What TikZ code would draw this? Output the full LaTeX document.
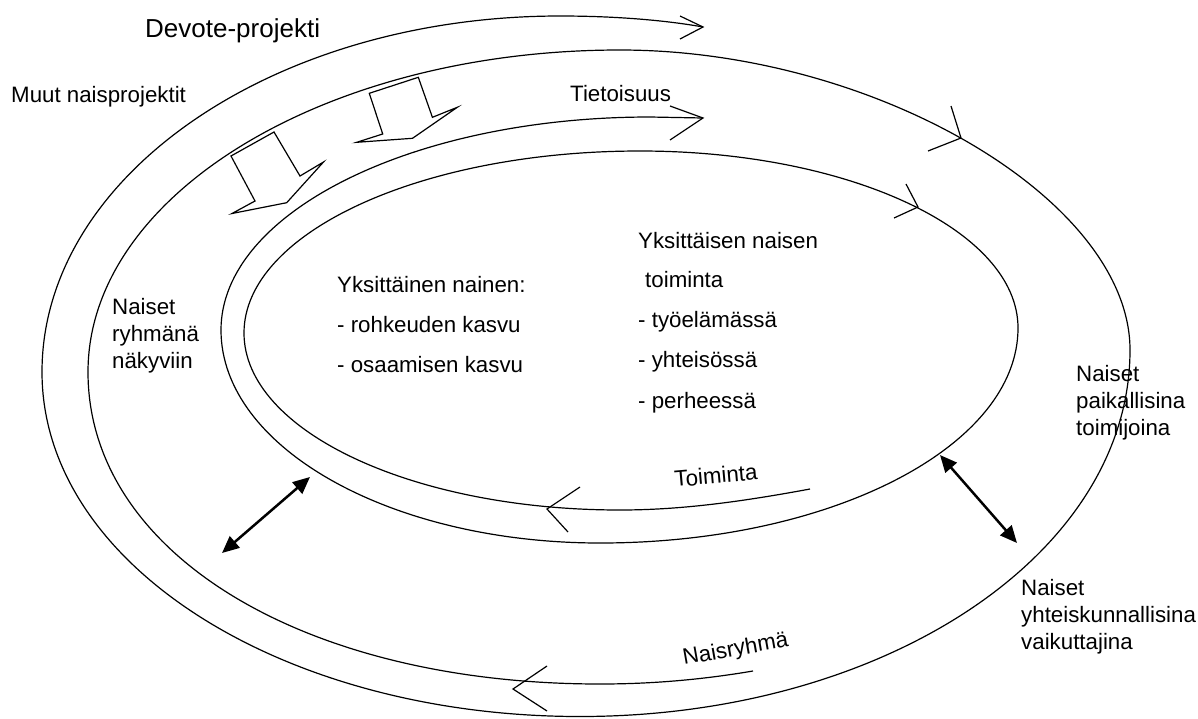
\documentclass[tikz,border=0pt]{standalone}
\usepackage{fontspec}
\setmainfont{Liberation Sans}
\usetikzlibrary{arrows.meta}
\newcommand{\lblfont}{\fontsize{22.3}{27}\selectfont}
\newcommand{\ttlfont}{\fontsize{26}{30}\selectfont}
\tikzset{
  curve/.style={line width=1.2pt, line cap=butt, line join=miter},
  vhead/.style={line width=1.2pt},
  blockarrow/.style={draw, line width=1.2pt, fill=white, line join=miter},
  dbl/.style={line width=2.5pt, {Triangle[length=17pt,width=15pt]}-{Triangle[length=17pt,width=15pt]}, shorten <=0pt, shorten >=0pt},
  lbl/.style={anchor=base west, inner sep=0pt, font=\lblfont},
}
\begin{document}
\begin{tikzpicture}[x=1pt, y=-1pt]
\fill[white] (0,0) rectangle (1198,718);
\useasboundingbox (0,0) rectangle (1198,718);

% ---------- outer spiral ----------
\draw[curve] (753,671) .. controls (700,680) and (650,684) .. (600,684)
  .. controls (303,684) and (88,553) .. (88,372)
  .. controls (88,194.2) and (326.2,50) .. (620,50)
  .. controls (875,50) and (1130,200) .. (1130,350)
  .. controls (1130,554.9) and (883.8,716.5) .. (580,716.5)
  .. controls (282.9,716.5) and (42,564.8) .. (42,372)
  .. controls (42,175.4) and (273.9,16) .. (560,16)
  .. controls (620,16) and (670,21) .. (703,27);
\draw[vhead] (680,16) -- (703,27) -- (680,39);
\draw[vhead] (951,106) -- (961,138) -- (928,151);
\draw[vhead] (547,666) -- (513,689) -- (547,711);

% ---------- inner spiral ----------
\draw[curve] (810,489) .. controls (740,502) and (680,510) .. (620,510)
  .. controls (412.3,510) and (244,430.8) .. (244,333)
  .. controls (244,232.5) and (421.3,151) .. (640,151)
  .. controls (848.8,151) and (1018,230.2) .. (1018,328)
  .. controls (1018,446.7) and (830.9,543) .. (600,543)
  .. controls (390.7,543) and (221,447.6) .. (221,330)
  .. controls (221,212.4) and (413.1,117) .. (650,117)
  -- (703,118);
\draw[vhead] (670,106) -- (703,118) -- (670,140);
\draw[vhead] (906,184) -- (918,207) -- (894,218);
\draw[vhead] (580,487) -- (547,509) -- (568,532);

% ---------- block arrows ----------
\draw[blockarrow] (369.3,93.3) -- (418.3,77.3) -- (432.4,117.3) -- (457.3,107.3)
  -- (412.5,138.3) -- (356.7,142.3) -- (382.7,134) -- cycle;
\draw[blockarrow] (231,156) -- (274,132) -- (300,176) -- (323.5,162)
  -- (286.7,202.7) -- (232,213.5) -- (255,201) -- cycle;

% ---------- double arrows ----------
\coordinate (la) at (222,553);
\coordinate (lb) at (310,477);
\coordinate (ra) at (940,455);
\coordinate (rb) at (1017,543);
\draw[dbl] (la) -- (lb);
\draw[dbl] (ra) -- (rb);

% ---------- labels ----------
\node[lbl, font=\ttlfont] (devote) at (145,37) {Devote-projekti};
\node[lbl] (muut) at (11,102) {Muut naisprojektit};
\node[lbl] (tieto) at (570,101) {Tietoisuus};

\node[lbl] (ryh1) at (112,314) {Naiset};
\node[lbl] (ryh2) at (112,341) {ryhmänä};
\node[lbl] (ryh3) at (112,368) {näkyviin};

\node[lbl] (yk1) at (337,292) {Yksittäinen nainen:};
\node[lbl] (yk2) at (337,332) {- rohkeuden kasvu};
\node[lbl] (yk3) at (337,372) {- osaamisen kasvu};

\node[lbl] (yt1) at (638,248) {Yksittäisen naisen};
\node[lbl] (yt2) at (645,287) {toiminta};
\node[lbl] (yt3) at (638,327) {- työelämässä};
\node[lbl] (yt4) at (638,367) {- yhteisössä};
\node[lbl] (yt5) at (638,408) {- perheessä};

\node[lbl] (pa1) at (1076,381) {Naiset};
\node[lbl] (pa2) at (1076,408) {paikallisina};
\node[lbl] (pa3) at (1076,435) {toimijoina};

\node[lbl] (yh1) at (1021,595) {Naiset};
\node[lbl] (yh2) at (1021,622) {yhteiskunnallisina};
\node[lbl] (yh3) at (1021,649) {vaikuttajina};

\node[lbl, rotate=5] (toim) at (675,487) {Toiminta};
\node[lbl, rotate=10] (nais) at (684,665) {Naisryhmä};
\end{tikzpicture}
\end{document}
